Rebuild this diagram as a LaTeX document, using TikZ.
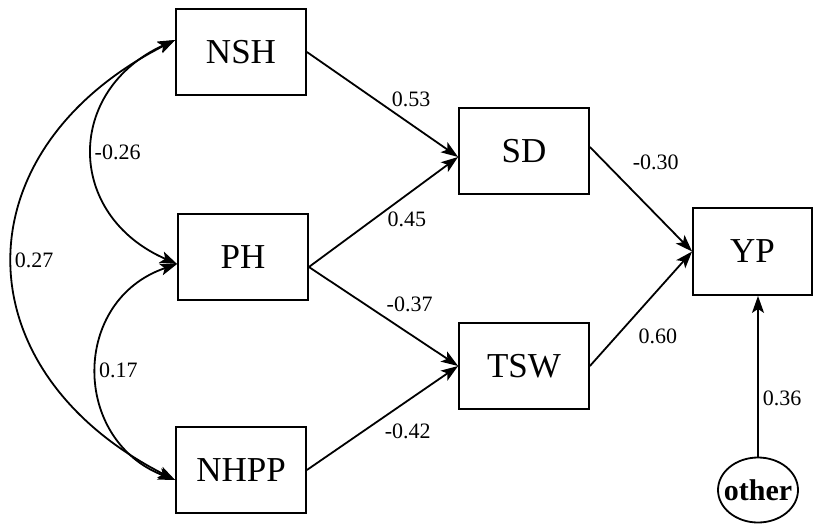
\documentclass[tikz,border=0pt]{standalone}
\usepackage{fontspec}
\setmainfont{Liberation Serif}
\usetikzlibrary{arrows.meta,shapes.geometric}

\begin{document}
\begin{tikzpicture}[x=1pt,y=-1pt,
		var/.style={draw,line width=1.8pt,minimum width=130pt,minimum height=86pt,inner sep=0pt,font=\fontsize{35}{40}\selectfont},
		coef/.style={font=\fontsize{22}{26}\selectfont,inner sep=1pt},
		tip/.tip={Stealth[length=17pt,width=12pt,inset=4pt]},
		effect/.style={-tip,line width=1.8pt},
		cov/.style={tip-tip,line width=1.8pt}]
		\useasboundingbox (0,0) rectangle (814,524);
		
		\node[var] (NSH) at (241,52) {NSH};
		\node[var] (PH) at (243,257) {PH};
		\node[var] (NHPP) at (241,470) {NHPP};
		\node[var] (SD) at (524,151) {SD};
		\node[var] (TSW) at (524,366) {TSW};
		\node[var,minimum width=119pt,minimum height=87pt] (YP) at (752.5,251.5) {YP};
		\node[draw,ellipse,line width=1.8pt,minimum width=80pt,minimum height=65pt,inner sep=0pt,font=\fontsize{30}{34}\selectfont\bfseries] (other) at (758,490) {\makebox[0pt]{other}};
		
		% correlations
		\draw[cov] ([yshift=12pt]NSH.west) .. controls (65,90) and (65,215) .. ([yshift=-7pt]PH.west) node[coef,pos=.5,right]{-0.26};
		\draw[cov] ([yshift=12pt]NSH.west) .. controls (-41,150) and (-41,370) .. ([yshift=-10pt]NHPP.west) node[coef,pos=.5,right]{0.27};
		\draw[cov] ([yshift=-7pt]PH.west) .. controls (71,300) and (71,440) .. ([yshift=-10pt]NHPP.west) node[coef,pos=.5,right]{0.17};
		
		% paths
		\draw[effect] (NSH.east) -- ([yshift=-6pt]SD.west) node[coef,pos=.69,yshift=25pt]{0.53};
		\draw[effect] ([yshift=-10pt]PH.east) -- ([yshift=-6pt]SD.west) node[coef,pos=.656,yshift=-25pt]{0.45};
		\draw[effect] ([yshift=-10pt]PH.east) -- (TSW.west) node[coef,pos=.675,yshift=29pt]{-0.37};
		\draw[effect] (NHPP.east) -- (TSW.west) node[coef,pos=.667,yshift=-31pt]{-0.42};
		\draw[effect] ([yshift=4pt]SD.east) -- (YP.west) node[coef,pos=.4,xshift=25pt,yshift=26pt]{-0.30};
		\draw[effect] (TSW.east) -- (YP.west) node[coef,pos=.4,xshift=27pt,yshift=-16pt]{0.60};
		\draw[effect] (other.north) -- (other.north |- YP.south) node[coef,pos=.36,right=3pt]{0.36};
	\end{tikzpicture}
\end{document}
